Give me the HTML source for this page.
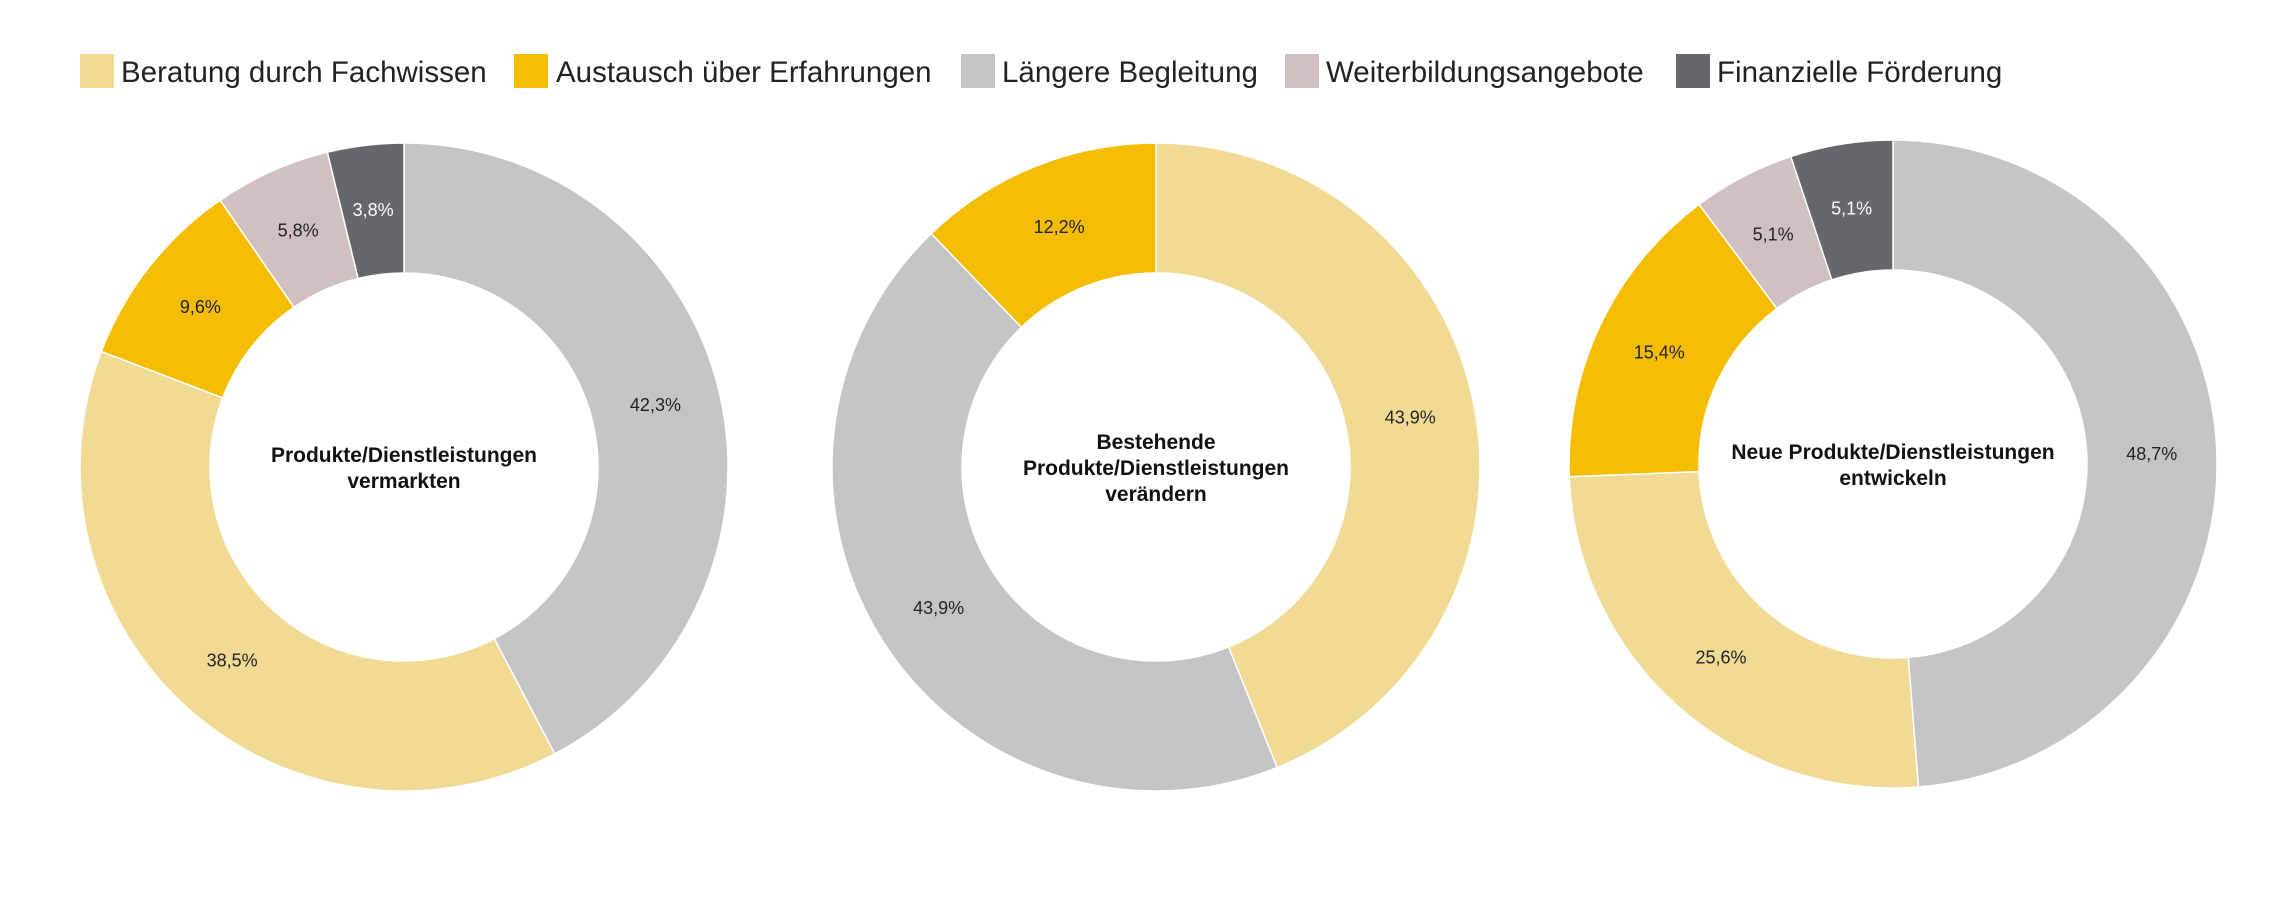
<!DOCTYPE html>
<html><head><meta charset="utf-8"><style>
html,body{margin:0;padding:0;background:#fff;}
svg{display:block;font-family:"Liberation Sans",sans-serif;}
</style></head><body>
<svg id="s" width="2289" height="919" viewBox="0 0 2289 919" xmlns="http://www.w3.org/2000/svg">
<rect width="2289" height="919" fill="#fff"/>
<g font-size="29.5" fill="#222">
<rect x="80" y="54" width="34" height="34" fill="#F0DA94"/><text x="121" y="82">Beratung durch Fachwissen</text>
<rect x="514" y="54" width="34" height="34" fill="#F5BD02"/><text x="556" y="82">Austausch über Erfahrungen</text>
<rect x="961" y="54" width="34" height="34" fill="#C4C4C4"/><text x="1002" y="82">Längere Begleitung</text>
<rect x="1285" y="54" width="34" height="34" fill="#D0C0C0"/><text x="1326" y="82">Weiterbildungsangebote</text>
<rect x="1676" y="54" width="34" height="34" fill="#67666B"/><text x="1717" y="82">Finanzielle Förderung</text>
</g>
<g id="d"></g>
</svg>
<script>
var C={b:"#F0DA94",y:"#F5BD02",g:"#C4C4C4",p:"#D0C0C0",k:"#67666B"};
var donuts=[
 {cx:404,cy:467,s:[["g",42.3],["b",38.5],["y",9.6],["p",5.8],["k",3.8]],t:["Produkte/Dienstleistungen","vermarkten"]},
 {cx:1156,cy:467,s:[["b",43.9],["g",43.9],["y",12.2]],t:["Bestehende","Produkte/Dienstleistungen","verändern"]},
 {cx:1893,cy:464,s:[["g",48.7],["b",25.6],["y",15.4],["p",5.1],["k",5.1]],t:["Neue Produkte/Dienstleistungen","entwickeln"]}
];
var R=324,r=194,out="";
function pt(cx,cy,rad,a){return [cx+rad*Math.sin(a),cy-rad*Math.cos(a)];}
donuts.forEach(function(d){
 var tot=d.s.reduce(function(a,b){return a+b[1]},0),a0=0;
 d.s.forEach(function(s){
  var a1=a0+s[1]/tot*2*Math.PI,lg=(a1-a0)>Math.PI?1:0;
  var p1=pt(d.cx,d.cy,R,a0),p2=pt(d.cx,d.cy,R,a1),p3=pt(d.cx,d.cy,r,a1),p4=pt(d.cx,d.cy,r,a0);
  out+='<path d="M'+p1+' A'+R+','+R+' 0 '+lg+' 1 '+p2+' L'+p3+' A'+r+','+r+' 0 '+lg+' 0 '+p4+' Z" fill="'+C[s[0]]+'" stroke="#fff" stroke-width="1.5"/>';
  var m=pt(d.cx,d.cy,(R+r)/2,(a0+a1)/2);
  out+='<text x="'+m[0]+'" y="'+(m[1]+6)+'" font-size="18" text-anchor="middle" fill="'+(s[0]=="k"?"#fff":"#222")+'">'+s[1].toFixed(1).replace(".",",")+'%</text>';
  a0=a1;
 });
 var n=d.t.length,y0=d.cy-(n-1)*13+8;
 d.t.forEach(function(l,i){out+='<text x="'+d.cx+'" y="'+(y0+i*26)+'" font-size="21" font-weight="bold" text-anchor="middle" fill="#111">'+l+'</text>';});
});
document.getElementById("d").innerHTML=out;
</script>
</body></html>
